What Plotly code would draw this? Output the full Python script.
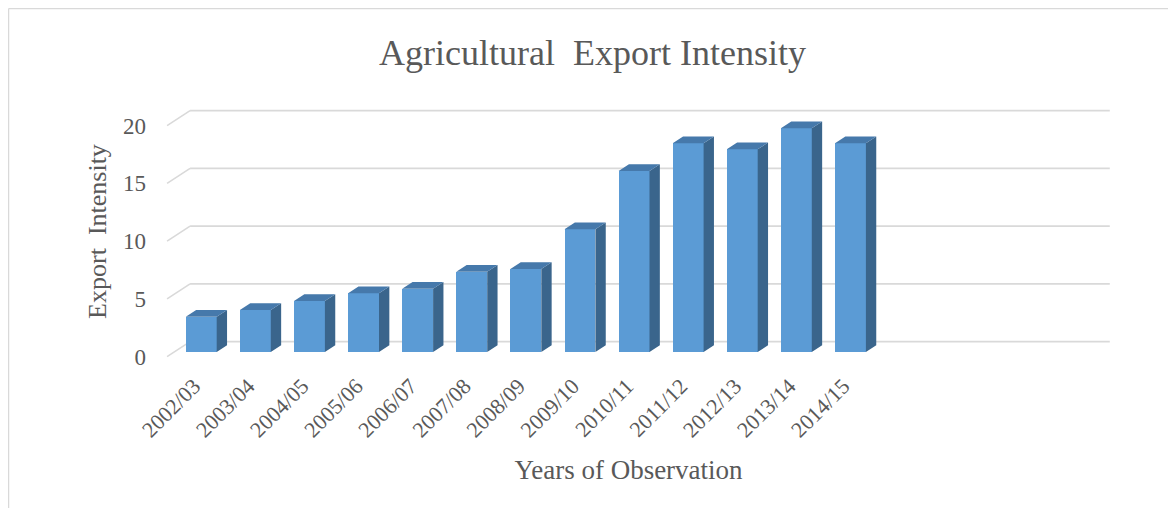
import plotly.graph_objects as go

# ---------------- data ----------------
years = ["2002/03", "2003/04", "2004/05", "2005/06", "2006/07", "2007/08", "2008/09",
         "2009/10", "2010/11", "2011/12", "2012/13", "2013/14", "2014/15"]
export_intensity = [3.06, 3.64, 4.42, 5.08, 5.48, 6.95, 7.19, 10.62, 15.67, 18.07, 17.55, 19.37, 18.07]
n_slots = 17                      # category slots on the axis (last ones empty)
y_ticks = [0, 5, 10, 15, 20]

# ---------------- layout / projection constants (page pixels) ----------------
OFF = 8                # default page margin around the figure
W, H = 1176 - 2 * OFF, 516 - 2 * OFF
PLOT_L, PLOT_R, PLOT_T, PLOT_B = 147 - OFF, 1110 - OFF, 95 - OFF, 368 - OFF
CAT_PX = 54.1          # pixels per category slot
UNIT_PX = 11.55        # pixels per value unit
ORIGIN_X_PX = 174.2 - OFF   # left edge of first slot (bar plane)
ORIGIN_Y_PX = 352 - OFF     # value 0 (bar plane)
DEPTH_DX, DEPTH_DY = 23, 15   # full floor depth, front -> back, in px
F_FRONT = 0.31         # position of the bar front plane inside the depth
BAR_DEPTH = 0.45       # bar thickness as share of the depth
BAR_WIDTH = 0.571

TXT = "#595959"
GRID = "#D9D9D9"
FRONT = "#5B9BD5"
TOP = "#4679AB"
SIDE = "#3A658C"
FONT = "Liberation Serif, Times New Roman, serif"

def dxu(px):
    return px / CAT_PX

def dyu(px):
    return px / UNIT_PX

x_range = [dxu(PLOT_L - ORIGIN_X_PX) - 0.5, dxu(PLOT_R - ORIGIN_X_PX) - 0.5]
y_range = [dyu(ORIGIN_Y_PX - PLOT_B), dyu(ORIGIN_Y_PX - PLOT_T)]

back_dx = dxu((1 - F_FRONT) * DEPTH_DX)
back_dy = dyu((1 - F_FRONT) * DEPTH_DY)
front_dx = dxu(F_FRONT * DEPTH_DX)
front_dy = dyu(F_FRONT * DEPTH_DY)
side_dx = dxu(BAR_DEPTH * DEPTH_DX)
side_dy = dyu(BAR_DEPTH * DEPTH_DY)

fig = go.Figure()

# gridlines (side wall diagonal + back wall), drawn below the bars
for v in y_ticks:
    fl = (-0.5 - front_dx, v - front_dy)
    bl = (-0.5 + back_dx, v + back_dy)
    br = (n_slots - 0.5 + back_dx, v + back_dy)
    for a, b in ((fl, bl), (bl, br)):
        fig.add_shape(type="line", xref="x", yref="y", x0=a[0], y0=a[1], x1=b[0], y1=b[1],
                      line=dict(color=GRID, width=1.6), layer="below")

idx = list(range(len(years)))

# front faces
fig.add_trace(go.Bar(x=idx, y=export_intensity, width=BAR_WIDTH,
                     marker=dict(color=FRONT, line=dict(width=0)),
                     showlegend=False, name="Export Intensity"))

# side and top faces
sx, sy, tx, ty = [], [], [], []
for i, v in zip(idx, export_intensity):
    xl, xr = i - BAR_WIDTH / 2, i + BAR_WIDTH / 2
    sx += [xr, xr + side_dx, xr + side_dx, xr, xr, None]
    sy += [0, side_dy, v + side_dy, v, 0, None]
    tx += [xl, xr, xr + side_dx, xl + side_dx, xl, None]
    ty += [v, v, v + side_dy, v + side_dy, v, None]
fig.add_trace(go.Scatter(x=sx, y=sy, mode="lines", fill="toself", fillcolor=SIDE,
                         line=dict(width=0, color=SIDE), hoverinfo="skip", showlegend=False))
fig.add_trace(go.Scatter(x=tx, y=ty, mode="lines", fill="toself", fillcolor=TOP,
                         line=dict(width=0, color=TOP), hoverinfo="skip", showlegend=False))

# chart border: only the top and left edges are visible in the frame
def px_to_paper_x(px):
    return (px - PLOT_L) / (PLOT_R - PLOT_L)

def py_to_paper_y(py):
    return (PLOT_B - py) / (PLOT_B - PLOT_T)

bx0, bx1 = px_to_paper_x(0.6), px_to_paper_x(W)
by0, by1 = py_to_paper_y(H), py_to_paper_y(0.6)
fig.add_shape(type="line", xref="paper", yref="paper", x0=bx0, x1=bx1, y0=by1, y1=by1,
              line=dict(color=GRID, width=1.3), layer="below")
fig.add_shape(type="line", xref="paper", yref="paper", x0=bx0, x1=bx0, y0=by0, y1=by1,
              line=dict(color=GRID, width=1.3), layer="below")

fig.update_layout(
    width=W, height=H,
    margin=dict(l=PLOT_L, r=W - PLOT_R, t=PLOT_T, b=H - PLOT_B, autoexpand=False),
    paper_bgcolor="white", plot_bgcolor="white",
    bargap=0,
    font=dict(family=FONT, color=TXT, size=22),
    title=dict(text="Agricultural\u00a0 Export Intensity", xref="container", yref="container",
               x=(592.5 - OFF) / W, y=1 - (52 - OFF) / H, xanchor="center", yanchor="middle",
               font=dict(family=FONT, size=36, color=TXT)),
    xaxis=dict(range=x_range, showgrid=False, zeroline=False, showline=False, ticks="",
               tickvals=[i - front_dx for i in idx], ticktext=years, tickangle=-45,
               tickfont=dict(family=FONT, size=22, color=TXT),
               title=dict(text="Years of Observation", standoff=18,
                          font=dict(family=FONT, size=27, color=TXT)),
               automargin=False),
    yaxis=dict(range=y_range, showgrid=False, zeroline=False, showline=False, ticks="",
               tickvals=[v - front_dy for v in y_ticks], ticktext=[str(v) for v in y_ticks],
               tickfont=dict(family=FONT, size=23, color=TXT),
               title=dict(text="Export\u00a0 Intensity", standoff=8,
                          font=dict(family=FONT, size=26, color=TXT)),
               automargin=False),
)

fig.write_html("out.html")
